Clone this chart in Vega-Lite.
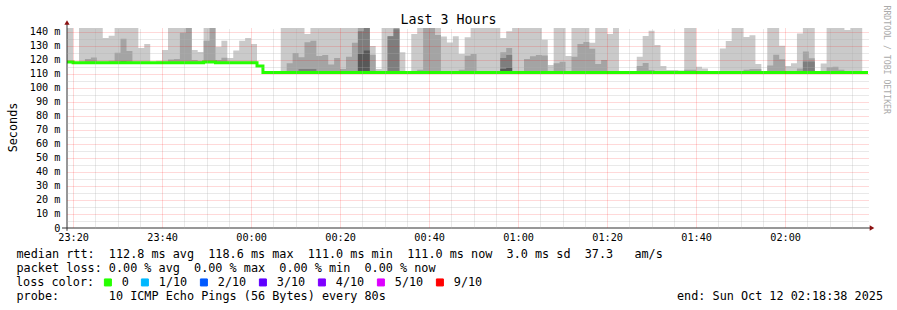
{
  "$schema": "https://vega.github.io/schema/vega-lite/v6.json",
  "width": 801,
  "height": 200,
  "autosize": {"type": "none"},
  "padding": {"left": 67, "top": 28, "right": 29, "bottom": 82},
  "background": "white",
  "config": {"view": {"stroke": null}, "font": "DejaVu Sans Mono"},
  "title": {"text": "Last 3 Hours", "font": "DejaVu Sans Mono", "fontSize": 13.3, "fontWeight": "normal", "color": "black", "anchor": "middle", "dx": -19, "dy": 36, "offset": 4, "baseline": "alphabetic", "frame": "group"},
  "data": {"values": [
    {"t":"2025-10-11T23:18:38","med":118.6,"L":150,"M":118.6,"D":118.6,"E":118.6},
    {"t":"2025-10-11T23:20:00","med":118,"L":118,"M":118,"D":118,"E":118},
    {"t":"2025-10-11T23:21:20","med":118,"L":150,"M":118,"D":118,"E":118},
    {"t":"2025-10-11T23:22:40","med":118,"L":150,"M":120.7,"D":118,"E":118},
    {"t":"2025-10-11T23:24:00","med":118,"L":150,"M":121.7,"D":118,"E":118},
    {"t":"2025-10-11T23:25:20","med":118,"L":150,"M":118,"D":118,"E":118},
    {"t":"2025-10-11T23:26:40","med":118,"L":135.7,"M":118,"D":118,"E":118},
    {"t":"2025-10-11T23:28:00","med":118,"L":137.3,"M":119.5,"D":118,"E":118},
    {"t":"2025-10-11T23:29:20","med":118,"L":150,"M":125.1,"D":118,"E":118},
    {"t":"2025-10-11T23:30:40","med":118,"L":150,"M":135.1,"D":119.3,"E":118},
    {"t":"2025-10-11T23:32:00","med":118,"L":150,"M":126.4,"D":118,"E":118},
    {"t":"2025-10-11T23:33:20","med":118,"L":150,"M":118,"D":118,"E":118},
    {"t":"2025-10-11T23:34:40","med":118,"L":128.6,"M":118,"D":118,"E":118},
    {"t":"2025-10-11T23:36:00","med":118,"L":131.4,"M":118,"D":118,"E":118},
    {"t":"2025-10-11T23:37:20","med":118,"L":118,"M":118,"D":118,"E":118},
    {"t":"2025-10-11T23:38:40","med":118,"L":119.5,"M":118,"D":118,"E":118},
    {"t":"2025-10-11T23:40:00","med":118,"L":127.2,"M":118,"D":118,"E":118},
    {"t":"2025-10-11T23:41:20","med":118,"L":150,"M":120.3,"D":118,"E":118},
    {"t":"2025-10-11T23:42:40","med":118,"L":150,"M":120.7,"D":118,"E":118},
    {"t":"2025-10-11T23:44:00","med":118,"L":150,"M":139.5,"D":118,"E":118},
    {"t":"2025-10-11T23:45:20","med":118,"L":150,"M":150,"D":118,"E":118},
    {"t":"2025-10-11T23:46:40","med":118,"L":127.1,"M":120,"D":118,"E":118},
    {"t":"2025-10-11T23:48:00","med":118,"L":125.7,"M":119.3,"D":118,"E":118},
    {"t":"2025-10-11T23:49:20","med":118.6,"L":150,"M":133.8,"D":118.6,"E":118.6},
    {"t":"2025-10-11T23:50:40","med":118.6,"L":150,"M":150,"D":118.6,"E":118.6},
    {"t":"2025-10-11T23:52:00","med":118,"L":129.4,"M":120,"D":118,"E":118},
    {"t":"2025-10-11T23:53:20","med":118,"L":133.8,"M":121.6,"D":118,"E":118},
    {"t":"2025-10-11T23:54:40","med":118,"L":121.5,"M":118,"D":118,"E":118},
    {"t":"2025-10-11T23:56:00","med":118,"L":126.7,"M":118,"D":118,"E":118},
    {"t":"2025-10-11T23:57:20","med":118,"L":133.8,"M":118,"D":118,"E":118},
    {"t":"2025-10-11T23:58:40","med":118,"L":135.7,"M":118,"D":118,"E":118},
    {"t":"2025-10-12T00:00:00","med":118,"L":131.4,"M":118,"D":118,"E":118},
    {"t":"2025-10-12T00:01:20","med":115.8,"L":115.8,"M":115.8,"D":115.8,"E":115.8},
    {"t":"2025-10-12T00:02:40","med":111,"L":111,"M":111,"D":111,"E":111},
    {"t":"2025-10-12T00:04:00","med":111,"L":111,"M":111,"D":111,"E":111},
    {"t":"2025-10-12T00:05:20","med":111,"L":111,"M":111,"D":111,"E":111},
    {"t":"2025-10-12T00:06:40","med":111,"L":150,"M":111,"D":111,"E":111},
    {"t":"2025-10-12T00:08:00","med":111,"L":150,"M":117.7,"D":111,"E":111},
    {"t":"2025-10-12T00:09:20","med":111,"L":150,"M":125,"D":111,"E":111},
    {"t":"2025-10-12T00:10:40","med":111,"L":150,"M":121.9,"D":113.5,"E":111},
    {"t":"2025-10-12T00:12:00","med":111,"L":138.6,"M":132.6,"D":113.6,"E":111},
    {"t":"2025-10-12T00:13:20","med":111,"L":150,"M":133.8,"D":113.6,"E":111},
    {"t":"2025-10-12T00:14:40","med":111,"L":150,"M":122.9,"D":111,"E":111},
    {"t":"2025-10-12T00:16:00","med":111,"L":150,"M":123.6,"D":111,"E":111},
    {"t":"2025-10-12T00:17:20","med":111,"L":150,"M":116.7,"D":111,"E":111},
    {"t":"2025-10-12T00:18:40","med":111,"L":150,"M":121.4,"D":111,"E":111},
    {"t":"2025-10-12T00:20:00","med":111,"L":150,"M":113.6,"D":111,"E":111},
    {"t":"2025-10-12T00:21:20","med":111,"L":150,"M":122.4,"D":111,"E":111},
    {"t":"2025-10-12T00:22:40","med":111,"L":150,"M":132.4,"D":111,"E":111},
    {"t":"2025-10-12T00:24:00","med":111,"L":150,"M":150,"D":140.5,"E":124.3},
    {"t":"2025-10-12T00:25:20","med":111,"L":150,"M":150,"D":150,"E":126.7},
    {"t":"2025-10-12T00:26:40","med":111,"L":130,"M":123.8,"D":111,"E":111},
    {"t":"2025-10-12T00:28:00","med":111,"L":113.6,"M":111,"D":111,"E":111},
    {"t":"2025-10-12T00:29:20","med":111,"L":150,"M":111,"D":111,"E":111},
    {"t":"2025-10-12T00:30:40","med":111,"L":150,"M":137,"D":137,"E":111},
    {"t":"2025-10-12T00:32:00","med":111,"L":150,"M":150,"D":141.9,"E":111},
    {"t":"2025-10-12T00:33:20","med":111,"L":125.5,"M":111,"D":111,"E":111},
    {"t":"2025-10-12T00:34:40","med":111,"L":111,"M":111,"D":111,"E":111},
    {"t":"2025-10-12T00:36:00","med":111,"L":138.6,"M":111,"D":111,"E":111},
    {"t":"2025-10-12T00:37:20","med":111,"L":150,"M":113,"D":111,"E":111},
    {"t":"2025-10-12T00:38:40","med":111,"L":150,"M":150,"D":111,"E":111},
    {"t":"2025-10-12T00:40:00","med":111,"L":150,"M":150,"D":111,"E":111},
    {"t":"2025-10-12T00:41:20","med":111,"L":150,"M":137.9,"D":111,"E":111},
    {"t":"2025-10-12T00:42:40","med":111,"L":136.7,"M":111,"D":111,"E":111},
    {"t":"2025-10-12T00:44:00","med":111,"L":132.5,"M":111,"D":111,"E":111},
    {"t":"2025-10-12T00:45:20","med":111,"L":137,"M":111,"D":111,"E":111},
    {"t":"2025-10-12T00:46:40","med":111,"L":124.3,"M":113,"D":111,"E":111},
    {"t":"2025-10-12T00:48:00","med":111,"L":136.2,"M":123.1,"D":111,"E":111},
    {"t":"2025-10-12T00:49:20","med":111,"L":150,"M":124.3,"D":111,"E":111},
    {"t":"2025-10-12T00:50:40","med":111,"L":150,"M":111,"D":111,"E":111},
    {"t":"2025-10-12T00:52:00","med":111,"L":150,"M":111,"D":111,"E":111},
    {"t":"2025-10-12T00:53:20","med":111,"L":150,"M":111,"D":111,"E":111},
    {"t":"2025-10-12T00:54:40","med":111,"L":150,"M":111,"D":111,"E":111},
    {"t":"2025-10-12T00:56:00","med":111,"L":135.7,"M":125.5,"D":121.4,"E":113.6},
    {"t":"2025-10-12T00:57:20","med":111,"L":140.5,"M":128.6,"D":123.6,"E":114.5},
    {"t":"2025-10-12T00:58:40","med":111,"L":150,"M":111,"D":111,"E":111},
    {"t":"2025-10-12T01:00:00","med":111,"L":150,"M":111,"D":111,"E":111},
    {"t":"2025-10-12T01:01:20","med":111,"L":150,"M":120.7,"D":111,"E":111},
    {"t":"2025-10-12T01:02:40","med":111,"L":150,"M":122.6,"D":111,"E":111},
    {"t":"2025-10-12T01:04:00","med":111,"L":150,"M":123.6,"D":111,"E":111},
    {"t":"2025-10-12T01:05:20","med":111,"L":134.5,"M":123.3,"D":111,"E":111},
    {"t":"2025-10-12T01:06:40","med":111,"L":116.4,"M":111,"D":111,"E":111},
    {"t":"2025-10-12T01:08:00","med":111,"L":150,"M":117.6,"D":111,"E":111},
    {"t":"2025-10-12T01:09:20","med":111,"L":150,"M":118.8,"D":111,"E":111},
    {"t":"2025-10-12T01:10:40","med":111,"L":122.9,"M":111,"D":111,"E":111},
    {"t":"2025-10-12T01:12:00","med":111,"L":150,"M":122.4,"D":111,"E":111},
    {"t":"2025-10-12T01:13:20","med":111,"L":150,"M":131.4,"D":111,"E":111},
    {"t":"2025-10-12T01:14:40","med":111,"L":150,"M":132.9,"D":111,"E":111},
    {"t":"2025-10-12T01:16:00","med":111,"L":132.4,"M":128.1,"D":111,"E":111},
    {"t":"2025-10-12T01:17:20","med":111,"L":150,"M":117.1,"D":111,"E":111},
    {"t":"2025-10-12T01:18:40","med":111,"L":150,"M":120,"D":111,"E":111},
    {"t":"2025-10-12T01:20:00","med":111,"L":138.6,"M":111,"D":111,"E":111},
    {"t":"2025-10-12T01:21:20","med":111,"L":150,"M":111,"D":111,"E":111},
    {"t":"2025-10-12T01:22:40","med":111,"L":111,"M":111,"D":111,"E":111},
    {"t":"2025-10-12T01:24:00","med":111,"L":111,"M":111,"D":111,"E":111},
    {"t":"2025-10-12T01:25:20","med":111,"L":111,"M":111,"D":111,"E":111},
    {"t":"2025-10-12T01:26:40","med":111,"L":122.4,"M":115.7,"D":111,"E":111},
    {"t":"2025-10-12T01:28:00","med":111,"L":137.1,"M":117.9,"D":111,"E":111},
    {"t":"2025-10-12T01:29:20","med":111,"L":140.9,"M":112.9,"D":111,"E":111},
    {"t":"2025-10-12T01:30:40","med":111,"L":130.7,"M":111,"D":111,"E":111},
    {"t":"2025-10-12T01:32:00","med":111,"L":115.8,"M":111,"D":111,"E":111},
    {"t":"2025-10-12T01:33:20","med":111,"L":112.8,"M":111,"D":111,"E":111},
    {"t":"2025-10-12T01:34:40","med":111,"L":112.8,"M":111,"D":111,"E":111},
    {"t":"2025-10-12T01:36:00","med":111,"L":112.5,"M":111,"D":111,"E":111},
    {"t":"2025-10-12T01:37:20","med":111,"L":150,"M":113,"D":111,"E":111},
    {"t":"2025-10-12T01:38:40","med":111,"L":150,"M":113,"D":111,"E":111},
    {"t":"2025-10-12T01:40:00","med":111,"L":115.2,"M":111,"D":111,"E":111},
    {"t":"2025-10-12T01:41:20","med":111,"L":114,"M":111,"D":111,"E":111},
    {"t":"2025-10-12T01:42:40","med":111,"L":111,"M":111,"D":111,"E":111},
    {"t":"2025-10-12T01:44:00","med":111,"L":111,"M":111,"D":111,"E":111},
    {"t":"2025-10-12T01:45:20","med":111,"L":128.2,"M":111,"D":111,"E":111},
    {"t":"2025-10-12T01:46:40","med":111,"L":133.5,"M":111,"D":111,"E":111},
    {"t":"2025-10-12T01:48:00","med":111,"L":150,"M":111,"D":111,"E":111},
    {"t":"2025-10-12T01:49:20","med":111,"L":150,"M":111,"D":111,"E":111},
    {"t":"2025-10-12T01:50:40","med":111,"L":136.5,"M":113,"D":111,"E":111},
    {"t":"2025-10-12T01:52:00","med":111,"L":137.7,"M":113.5,"D":111,"E":111},
    {"t":"2025-10-12T01:53:20","med":111,"L":117.1,"M":113.5,"D":111,"E":111},
    {"t":"2025-10-12T01:54:40","med":111,"L":111,"M":111,"D":111,"E":111},
    {"t":"2025-10-12T01:56:00","med":111,"L":150,"M":116,"D":111,"E":111},
    {"t":"2025-10-12T01:57:20","med":111,"L":150,"M":123.7,"D":111,"E":111},
    {"t":"2025-10-12T01:58:40","med":111,"L":130.1,"M":120.5,"D":111,"E":111},
    {"t":"2025-10-12T02:00:00","med":111,"L":115.8,"M":111,"D":111,"E":111},
    {"t":"2025-10-12T02:01:20","med":111,"L":117.6,"M":111,"D":111,"E":111},
    {"t":"2025-10-12T02:02:40","med":111,"L":139,"M":114,"D":111,"E":111},
    {"t":"2025-10-12T02:04:00","med":111,"L":150,"M":126,"D":119,"E":111},
    {"t":"2025-10-12T02:05:20","med":111,"L":150,"M":121.3,"D":119,"E":111},
    {"t":"2025-10-12T02:06:40","med":111,"L":111,"M":111,"D":111,"E":111},
    {"t":"2025-10-12T02:08:00","med":111,"L":117.5,"M":111,"D":111,"E":111},
    {"t":"2025-10-12T02:09:20","med":111,"L":150,"M":114.8,"D":111,"E":111},
    {"t":"2025-10-12T02:10:40","med":111,"L":150,"M":115.2,"D":111,"E":111},
    {"t":"2025-10-12T02:12:00","med":111,"L":150,"M":113,"D":111,"E":111},
    {"t":"2025-10-12T02:13:20","med":111,"L":141.5,"M":111,"D":111,"E":111},
    {"t":"2025-10-12T02:14:40","med":111,"L":150,"M":111,"D":111,"E":111},
    {"t":"2025-10-12T02:16:00","med":111,"L":150,"M":111,"D":111,"E":111},
    {"t":"2025-10-12T02:17:20","med":111,"L":111,"M":111,"D":111,"E":111},
    {"t":"2025-10-12T02:18:38","med":111,"L":111,"M":111,"D":111,"E":111}
  ]},
  "layer": [
    {
      "mark": {"type": "area", "interpolate": "step-after", "color": "#cacaca", "clip": true},
      "encoding": {
        "x": {
          "field": "t", "type": "temporal",
          "scale": {"domain": [{"year":2025,"month":10,"date":11,"hours":23,"minutes":18,"seconds":38},{"year":2025,"month":10,"date":12,"hours":2,"minutes":18,"seconds":38}], "nice": false},
          "axis": {
            "orient": "bottom",
            "values": [
              {"year":2025,"month":10,"date":11,"hours":23,"minutes":20},
              {"year":2025,"month":10,"date":11,"hours":23,"minutes":40},
              {"year":2025,"month":10,"date":12,"hours":0,"minutes":0},
              {"year":2025,"month":10,"date":12,"hours":0,"minutes":20},
              {"year":2025,"month":10,"date":12,"hours":0,"minutes":40},
              {"year":2025,"month":10,"date":12,"hours":1,"minutes":0},
              {"year":2025,"month":10,"date":12,"hours":1,"minutes":20},
              {"year":2025,"month":10,"date":12,"hours":1,"minutes":40},
              {"year":2025,"month":10,"date":12,"hours":2,"minutes":0}
            ],
            "format": "%H:%M",
            "labelFont": "DejaVu Sans Mono", "labelFontSize": 10.2, "labelColor": "black", "labelPadding": 4.5, "labelFlush": false, "labelOverlap": false,
            "ticks": false, "domain": false,
            "grid": true, "gridColor": "#ff0000", "gridOpacity": 0.3, "gridDash": [1, 1], "zindex": 2,
            "title": ["median\u00a0rtt:\u00a0\u00a0112.8\u00a0ms\u00a0avg\u00a0\u00a0118.6\u00a0ms\u00a0max\u00a0\u00a0111.0\u00a0ms\u00a0min\u00a0\u00a0111.0\u00a0ms\u00a0now\u00a0\u00a03.0\u00a0ms\u00a0sd\u00a0\u00a037.3\u00a0\u00a0\u00a0am/s",
                      "packet\u00a0loss:\u00a00.00\u00a0%\u00a0avg\u00a0\u00a00.00\u00a0%\u00a0max\u00a0\u00a00.00\u00a0%\u00a0min\u00a0\u00a00.00\u00a0%\u00a0now"],
            "titleFont": "DejaVu Sans Mono", "titleFontSize": 11.8, "titleFontWeight": "normal", "titleColor": "black",
            "titleX": -51, "titleY": 29.7, "titleAlign": "left", "titleAnchor": "start", "titleBaseline": "alphabetic", "titleLineHeight": 14
          }
        },
        "y": {
          "field": "med", "type": "quantitative",
          "scale": {"domain": [0, 142.857], "nice": false, "zero": false},
          "axis": {
            "orient": "left", "values": [0, 10, 20, 30, 40, 50, 60, 70, 80, 90, 100, 110, 120, 130, 140],
            "labelExpr": "datum.value == 0 ? '0' : datum.value + ' m'",
            "labelFont": "DejaVu Sans Mono", "labelFontSize": 10.2, "labelColor": "black", "labelPadding": 7, "labelFlush": false, "labelOverlap": false,
            "ticks": false, "domain": false,
            "grid": true, "gridColor": "#ff0000", "gridOpacity": {"condition": {"test": "datum.value == 0", "value": 0}, "value": 0.3}, "gridDash": [1, 1], "zindex": 2,
            "title": "Seconds", "titleFont": "DejaVu Sans Mono", "titleFontSize": 11.8, "titleFontWeight": "normal", "titleColor": "black",
            "titleAngle": 270, "titleX": -50.5, "titleY": 99, "titleAlign": "center", "titleBaseline": "alphabetic"
          }
        },
        "y2": {"field": "L"}
      }
    },
    {
      "mark": {"type": "area", "interpolate": "step-after", "color": "#a4a4a4", "clip": true},
      "encoding": {"x": {"field": "t", "type": "temporal", "axis": null}, "y": {"field": "med", "type": "quantitative", "axis": null}, "y2": {"field": "M"}}
    },
    {
      "mark": {"type": "area", "interpolate": "step-after", "color": "#7e7e7e", "clip": true},
      "encoding": {"x": {"field": "t", "type": "temporal", "axis": null}, "y": {"field": "med", "type": "quantitative", "axis": null}, "y2": {"field": "D"}}
    },
    {
      "mark": {"type": "area", "interpolate": "step-after", "color": "#585858", "clip": true},
      "encoding": {"x": {"field": "t", "type": "temporal", "axis": null}, "y": {"field": "med", "type": "quantitative", "axis": null}, "y2": {"field": "E"}}
    },
    {
      "mark": {"type": "line", "interpolate": "step-after", "color": "#202020", "strokeWidth": 1, "clip": true},
      "encoding": {"x": {"field": "t", "type": "temporal", "axis": null}, "y": {"field": "med", "type": "quantitative", "axis": null}}
    },
    {
      "mark": {"type": "line", "interpolate": "step-after", "strokeWidth": 3, "strokeCap": "butt", "clip": true},
      "encoding": {
        "x": {"field": "t", "type": "temporal", "axis": null},
        "y": {"field": "med", "type": "quantitative", "axis": null},
        "color": {
          "datum": "0", "type": "nominal",
          "scale": {"domain": ["0", "1/10", "2/10", "3/10", "4/10", "5/10", "9/10"], "range": ["#26ff00", "#00b8ff", "#0059ff", "#5e00ff", "#7e00ff", "#dd00ff", "#ff0000"]},
          "legend": {
            "title": "loss\u00a0color:", "orient": "none", "legendX": -51, "legendY": 248.4, "direction": "horizontal",
            "titleOrient": "left", "titleFont": "DejaVu Sans Mono", "titleFontSize": 11.8, "titleFontWeight": "normal", "titleColor": "black", "titlePadding": 7,
            "labelFont": "DejaVu Sans Mono", "labelFontSize": 11.8, "labelColor": "black", "labelOffset": 8, "columnPadding": 10,
            "symbolType": "square", "symbolSize": 49, "symbolStrokeColor": "black", "symbolStrokeWidth": 1, "padding": 0,
            "encode": {"symbols": {"update": {"fill": {"scale": "color", "field": "value"}, "stroke": {"value": "black"}, "strokeWidth": {"value": 1}, "opacity": {"value": 1}}}}
          }
        }
      }
    },
    {
      "data": {"values": [{}]},
      "mark": {"type": "rule", "color": "#303030", "strokeWidth": 1, "clip": false},
      "encoding": {
        "x": {"datum": {"year":2025,"month":10,"date":11,"hours":23,"minutes":17,"seconds":31}, "type": "temporal", "axis": null},
        "x2": {"datum": {"year":2025,"month":10,"date":12,"hours":2,"minutes":19,"seconds":5}},
        "y": {"datum": 0, "type": "quantitative", "axis": null}
      }
    },
    {
      "data": {"values": [{}]},
      "mark": {"type": "rule", "color": "#303030", "strokeWidth": 1, "clip": false},
      "encoding": {
        "x": {"datum": {"year":2025,"month":10,"date":11,"hours":23,"minutes":18,"seconds":38}, "type": "temporal", "axis": null},
        "y": {"datum": -2, "type": "quantitative", "axis": null},
        "y2": {"datum": 146.5}
      }
    },
    {
      "data": {"values": [{}]},
      "mark": {"type": "point", "shape": "triangle-right", "filled": true, "size": 28, "color": "#8b1010", "opacity": 1, "clip": false},
      "encoding": {
        "x": {"datum": {"year":2025,"month":10,"date":12,"hours":2,"minutes":19,"seconds":32}, "type": "temporal", "axis": null},
        "y": {"datum": 0, "type": "quantitative", "axis": null}
      }
    },
    {
      "data": {"values": [{}]},
      "mark": {"type": "point", "shape": "triangle-up", "filled": true, "size": 28, "color": "#8b1010", "opacity": 1, "clip": false},
      "encoding": {
        "x": {"datum": {"year":2025,"month":10,"date":11,"hours":23,"minutes":18,"seconds":38}, "type": "temporal", "axis": null},
        "y": {"datum": 146.8, "type": "quantitative", "axis": null}
      }
    },
    {
      "mark": {"type": "point", "opacity": 0},
      "encoding": {
        "x": {
          "field": "t", "type": "temporal",
          "axis": {
            "orient": "top",
            "values": [
              {"year":2025,"month":10,"date":11,"hours":23,"minutes":25},
              {"year":2025,"month":10,"date":11,"hours":23,"minutes":30},
              {"year":2025,"month":10,"date":11,"hours":23,"minutes":35},
              {"year":2025,"month":10,"date":11,"hours":23,"minutes":45},
              {"year":2025,"month":10,"date":11,"hours":23,"minutes":50},
              {"year":2025,"month":10,"date":11,"hours":23,"minutes":55},
              {"year":2025,"month":10,"date":12,"hours":0,"minutes":5},
              {"year":2025,"month":10,"date":12,"hours":0,"minutes":10},
              {"year":2025,"month":10,"date":12,"hours":0,"minutes":15},
              {"year":2025,"month":10,"date":12,"hours":0,"minutes":25},
              {"year":2025,"month":10,"date":12,"hours":0,"minutes":30},
              {"year":2025,"month":10,"date":12,"hours":0,"minutes":35},
              {"year":2025,"month":10,"date":12,"hours":0,"minutes":45},
              {"year":2025,"month":10,"date":12,"hours":0,"minutes":50},
              {"year":2025,"month":10,"date":12,"hours":0,"minutes":55},
              {"year":2025,"month":10,"date":12,"hours":1,"minutes":5},
              {"year":2025,"month":10,"date":12,"hours":1,"minutes":10},
              {"year":2025,"month":10,"date":12,"hours":1,"minutes":15},
              {"year":2025,"month":10,"date":12,"hours":1,"minutes":25},
              {"year":2025,"month":10,"date":12,"hours":1,"minutes":30},
              {"year":2025,"month":10,"date":12,"hours":1,"minutes":35},
              {"year":2025,"month":10,"date":12,"hours":1,"minutes":45},
              {"year":2025,"month":10,"date":12,"hours":1,"minutes":50},
              {"year":2025,"month":10,"date":12,"hours":1,"minutes":55},
              {"year":2025,"month":10,"date":12,"hours":2,"minutes":5},
              {"year":2025,"month":10,"date":12,"hours":2,"minutes":10},
              {"year":2025,"month":10,"date":12,"hours":2,"minutes":15}
            ],
            "labels": false, "ticks": false, "domain": false,
            "grid": true, "gridColor": "#b0b0b0", "gridOpacity": 0.55, "gridDash": [1, 1], "zindex": 1,
            "title": "probe:\u00a0\u00a0\u00a0\u00a0\u00a0\u00a0\u00a010\u00a0ICMP\u00a0Echo\u00a0Pings\u00a0(56\u00a0Bytes)\u00a0every\u00a080s\u00a0\u00a0\u00a0\u00a0\u00a0\u00a0\u00a0\u00a0\u00a0\u00a0\u00a0\u00a0\u00a0\u00a0\u00a0\u00a0\u00a0\u00a0\u00a0\u00a0\u00a0\u00a0\u00a0\u00a0\u00a0\u00a0\u00a0\u00a0\u00a0\u00a0\u00a0\u00a0\u00a0\u00a0\u00a0\u00a0\u00a0\u00a0\u00a0\u00a0\u00a0end:\u00a0Sun\u00a0Oct\u00a012\u00a002:18:38\u00a02025",
            "titleFont": "DejaVu Sans Mono", "titleFontSize": 11.8, "titleFontWeight": "normal", "titleColor": "black",
            "titleX": -51, "titleY": 271.7, "titleAlign": "left", "titleAnchor": "start", "titleBaseline": "alphabetic"
          }
        },
        "y": {
          "field": "med", "type": "quantitative",
          "axis": {
            "orient": "right", "values": [5, 15, 25, 35, 45, 55, 65, 75, 85, 95, 105, 115, 125, 135],
            "labels": false, "ticks": false, "domain": false,
            "grid": true, "gridColor": "#b0b0b0", "gridOpacity": 0.55, "gridDash": [1, 1], "zindex": 1,
            "title": "RRDTOOL / TOBI OETIKER", "titleFont": "DejaVu Sans Mono", "titleFontSize": 8.2, "titleFontWeight": "normal", "titleColor": "#aaaaaa",
            "titleAngle": 90, "titleX": 15, "titleY": -23, "titleAlign": "left", "titleBaseline": "alphabetic"
          }
        }
      }
    }
  ],
  "resolve": {"axis": {"x": "independent", "y": "independent"}}
}
